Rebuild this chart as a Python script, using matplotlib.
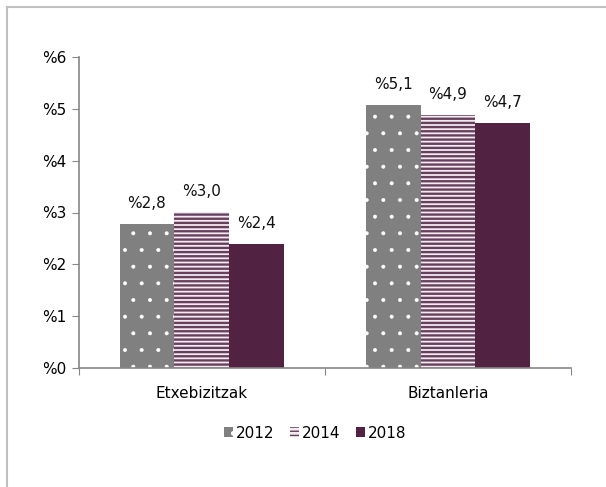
import matplotlib.pyplot as plt
from matplotlib.lines import Line2D
import numpy as np

categories = ['Etxebizitzak', 'Biztanleria']
years = ['2012', '2014', '2018']
values = {
    '2012': [2.78, 5.07],
    '2014': [3.01, 4.88],
    '2018': [2.39, 4.73],
}
labels = {
    '2012': ['%2,8', '%5,1'],
    '2014': ['%3,0', '%4,9'],
    '2018': ['%2,4', '%4,7'],
}
y_ticks = [0, 1, 2, 3, 4, 5, 6]
y_tick_labels = ['%0', '%1', '%2', '%3', '%4', '%5', '%6']


def main():
    plt.rcParams['font.family'] = ['DejaVu Sans']

    fig = plt.figure(figsize=(6.06, 4.87), dpi=100)
    ax = fig.add_axes([78.5 / 606, 119.3 / 487, (571 - 78.5) / 606, (367.7 - 57.3) / 487])

    styles = {
        '2012': dict(color='#808080', edgecolor='white', hatch='.', hlw=0.4),
        '2014': dict(color='#F2ECF0', edgecolor='#683F5E', hatch='----', hlw=1.7),
        '2018': dict(color='#512241', edgecolor='#512241', hatch=None, hlw=1.0),
    }

    x = np.arange(len(categories))
    width = 0.222
    for j, year in enumerate(years):
        pos = x + (j - 1) * width
        st = styles[year]
        plt.rcParams['hatch.linewidth'] = st['hlw']
        bars = ax.bar(pos, values[year], width, color=st['color'],
                      edgecolor=st['edgecolor'], hatch=st['hatch'],
                      linewidth=0, label=year)
        for b, txt in zip(bars, labels[year]):
            if hasattr(b, 'set_hatch_linewidth'):
                b.set_hatch_linewidth(st['hlw'])
            ax.annotate(txt, (b.get_x() + b.get_width() / 2, b.get_height()),
                        xytext=(0, 15), textcoords='offset points',
                        ha='center', va='center', fontsize=11, color='#111111')

    ax.set_xlim(-0.5, 1.5)
    ax.set_ylim(0, 6)
    ax.set_yticks(y_ticks)
    ax.set_yticklabels(y_tick_labels, fontsize=11)
    ax.set_xticks([-0.5, 0.5, 1.5])
    ax.set_xticklabels([])
    ax.set_xticks(x, minor=True)
    ax.set_xticklabels(categories, minor=True, fontsize=11)
    ax.tick_params(axis='x', which='minor', length=0, pad=13)
    ax.tick_params(axis='x', which='major', length=5, color='#868686', direction='out')
    ax.tick_params(axis='y', length=5, color='#868686', direction='out', pad=4)

    for s in ['top', 'right']:
        ax.spines[s].set_visible(False)
    for s in ['left', 'bottom']:
        ax.spines[s].set_color('#868686')
        ax.spines[s].set_linewidth(1.2)

    fig.legend(loc='center', bbox_to_anchor=(315 / 606, 1 - 433 / 487), ncol=3,
               frameon=False, fontsize=11, handlelength=0.6, handleheight=0.6,
               handletextpad=0.2, columnspacing=1.0)

    # outer frame: only left and top edges are visible
    fx = 6.5 / 606
    fy = 1 - 6.5 / 487
    fig.lines.append(Line2D([fx, fx], [0, fy], transform=fig.transFigure,
                            color='#BFBFBF', linewidth=1.5))
    fig.lines.append(Line2D([fx, 1], [fy, fy], transform=fig.transFigure,
                            color='#BFBFBF', linewidth=1.5))

    fig.savefig('out.png', dpi=100)


if __name__ == '__main__':
    main()
